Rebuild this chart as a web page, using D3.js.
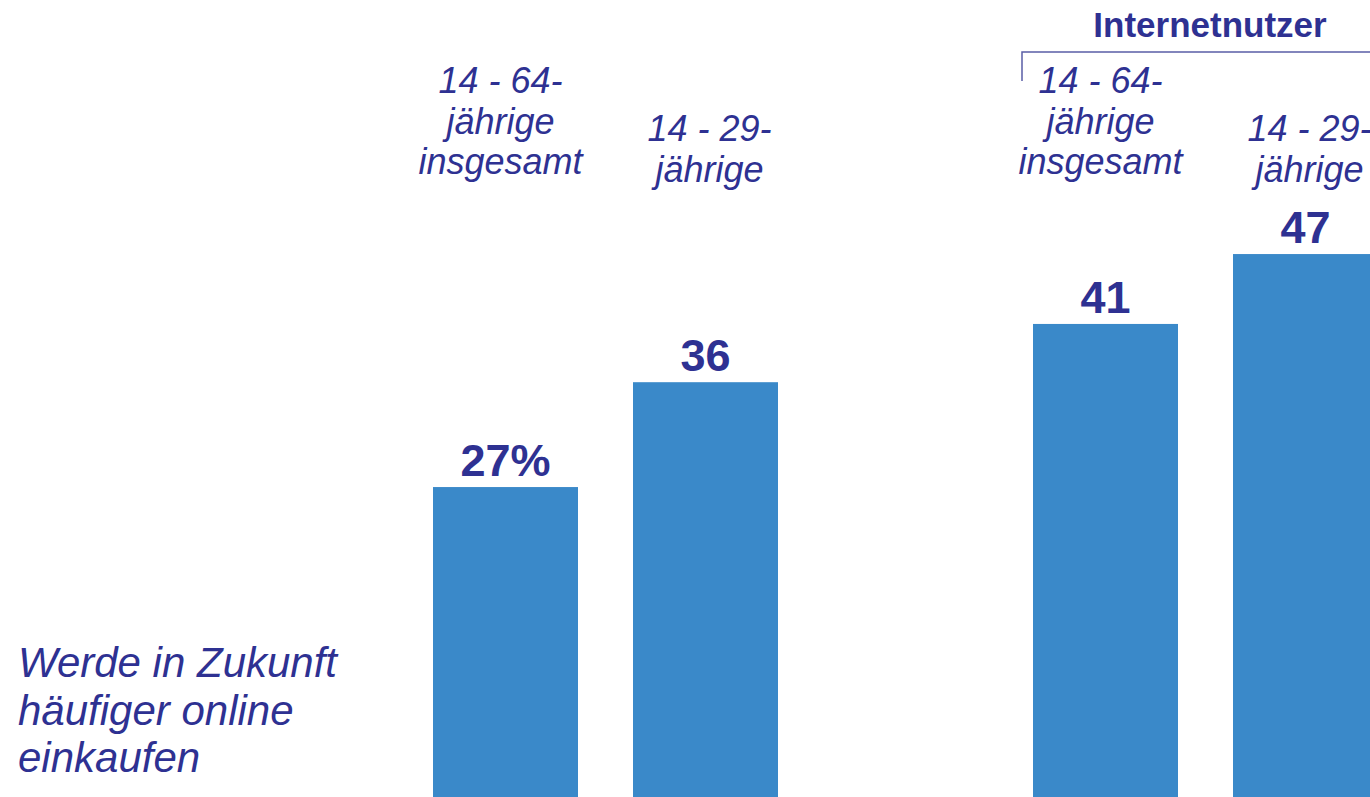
<!DOCTYPE html>
<html>
<head>
<meta charset="utf-8">
<script src="https://cdn.jsdelivr.net/npm/d3@7"></script>
<style>
  html, body { margin: 0; padding: 0; background: #fff; }
  svg { display: block; font-family: 'Liberation Sans', Arial, sans-serif; }
</style>
</head>
<body>
<div class="chart"></div>
<script>
// data
const groups = ['Alle', 'Internetnutzer'];
const groupHeaders = ['', 'Internetnutzer'];
const ages = ['14-64', '14-29'];
const ageLabels = [['14 - 64-', 'jährige', 'insgesamt'], ['14 - 29-', 'jährige']];
const valuesAll = [27, 36];
const valuesInternet = [41, 47];
const captionLines = ['Werde in Zukunft', 'häufiger online', 'einkaufen'];

const barColor = '#3a89c9';
const textColor = '#2e3192';

function createChart() {
  const width = 1370;
  const height = 797;

  const svg = d3.select('.chart')
    .append('svg')
    .attr('width', width)
    .attr('height', height);

  const rows = [];
  groups.forEach((g, gi) => {
    const vals = gi === 0 ? valuesAll : valuesInternet;
    ages.forEach((a, ai) => rows.push({group: g, age: a, ai: ai, gi: gi, value: vals[ai]}));
  });

  // outer band for the two groups, inner band for the age classes
  const x0 = d3.scaleBand()
    .domain(groups)
    .range([433, 1378])
    .paddingInner(0.425);

  const x1 = d3.scaleBand()
    .domain(ages)
    .range([0, x0.bandwidth()])
    .paddingInner(0.275);

  const y = d3.scaleLinear()
    .domain([0, 50])
    .range([801.6, 801.6 - 50 * 11.65]);

  const barX = d => x0(d.group) + x1(d.age);
  const barMid = d => barX(d) + x1.bandwidth() / 2;

  svg.selectAll('.bar')
    .data(rows)
    .enter()
    .append('rect')
    .attr('class', 'bar')
    .attr('x', barX)
    .attr('y', d => y(d.value))
    .attr('width', x1.bandwidth())
    .attr('height', d => y(0) - y(d.value))
    .style('fill', barColor);

  // value labels on top of the bars
  svg.selectAll('.value')
    .data(rows)
    .enter()
    .append('text')
    .attr('class', 'value')
    .attr('x', barMid)
    .attr('y', d => y(d.value) - 11)
    .attr('text-anchor', 'middle')
    .style('font-size', '45px')
    .style('font-weight', 'bold')
    .style('fill', textColor)
    .text((d, i) => i === 0 ? d.value + '%' : d.value);

  // age labels above the bars
  const firstLine = [93, 141];
  const shift = [-5, 4];
  const labels = svg.selectAll('.age')
    .data(rows)
    .enter()
    .append('text')
    .attr('class', 'age')
    .attr('text-anchor', 'middle')
    .style('font-size', '36px')
    .style('font-style', 'italic')
    .style('fill', textColor);

  labels.selectAll('tspan')
    .data(d => ageLabels[d.ai].map((t, li) => ({t: t, li: li, d: d})))
    .enter()
    .append('tspan')
    .attr('x', o => barMid(o.d) + shift[o.d.ai])
    .attr('y', o => firstLine[o.d.ai] + o.li * 40.5)
    .text(o => o.t);

  // group header with bracket
  groupHeaders.forEach((h, gi) => {
    if (!h) return;
    const left = x0(groups[gi]) - 11;
    svg.append('path')
      .attr('d', `M${left},81V52H${width}`)
      .style('fill', 'none')
      .style('stroke', '#5a5ea6')
      .style('stroke-width', 1.5);
    svg.append('text')
      .attr('x', 1210)
      .attr('y', 37)
      .attr('text-anchor', 'middle')
      .style('font-size', '35px')
      .style('font-weight', 'bold')
      .style('fill', textColor)
      .text(h);
  });

  // row caption on the left
  svg.append('text')
    .style('font-size', '42px')
    .style('font-style', 'italic')
    .style('fill', textColor)
    .selectAll('tspan')
    .data(captionLines)
    .enter()
    .append('tspan')
    .attr('x', 18)
    .attr('y', (d, i) => 677 + i * 47.5)
    .text(d => d);
}

createChart();
</script>
</body>
</html>
